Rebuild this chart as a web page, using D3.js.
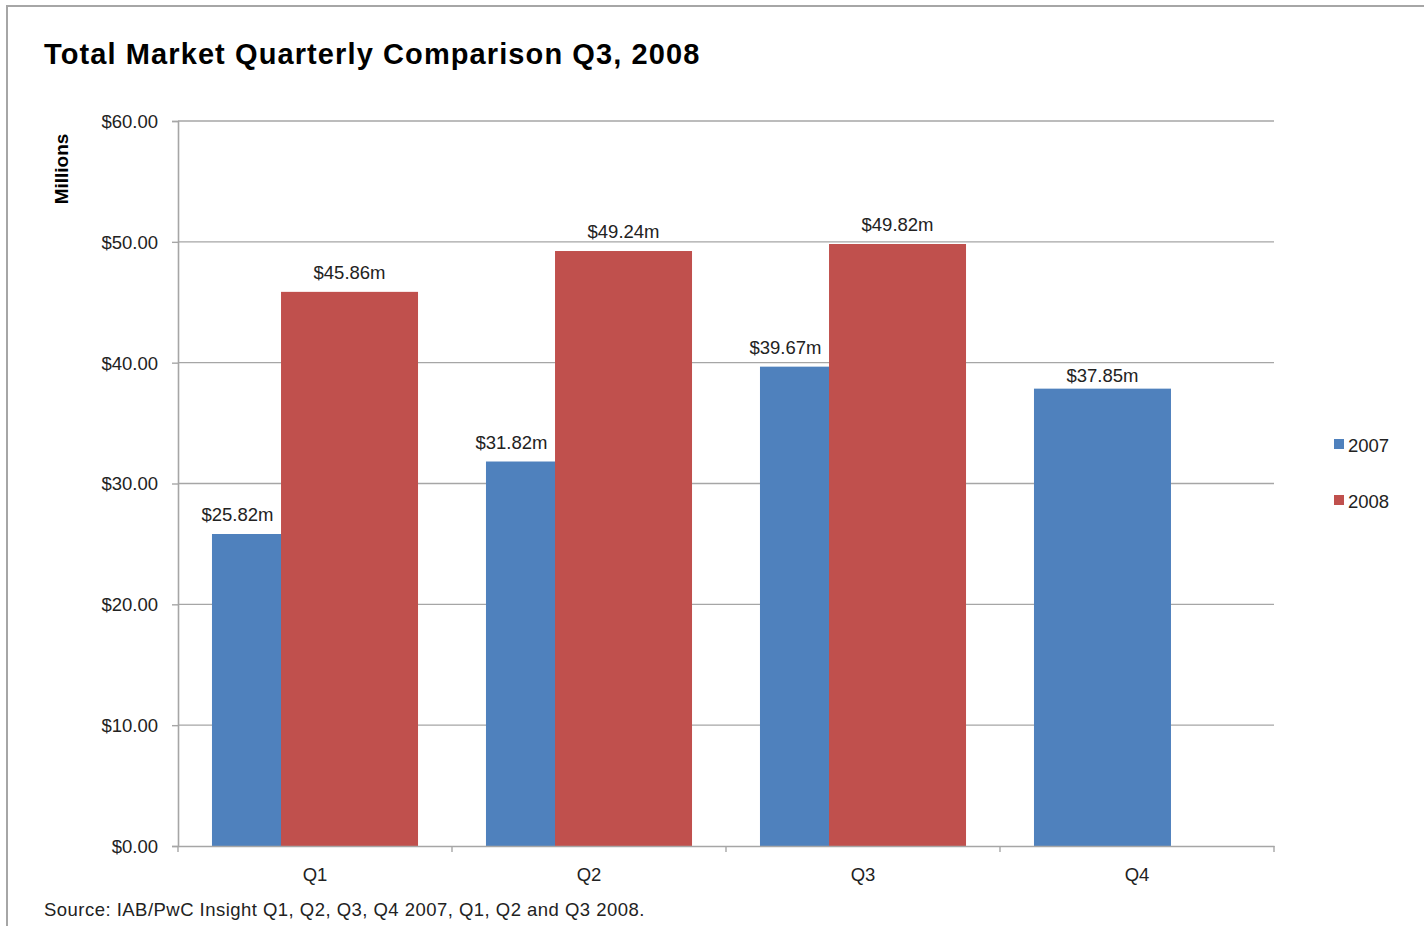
<!DOCTYPE html>
<html><head><meta charset="utf-8">
<script src="https://cdn.jsdelivr.net/npm/d3@7"></script>
<style>
html,body{margin:0;padding:0;background:#fff;}
svg{display:block;font-family:"Liberation Sans",Arial,sans-serif;}
</style></head>
<body><svg id="c" width="1424" height="926"></svg>
<script>
const categories = ["Q1","Q2","Q3","Q4"];
const series = ["2007","2008"];
const values2007 = [25.82, 31.82, 39.67, 37.85];
const values2008 = [45.86, 49.24, 49.82, null];
const labels2007 = ["$25.82m","$31.82m","$39.67m","$37.85m"];
const labels2008 = ["$45.86m","$49.24m","$49.82m",null];
const yTicks = [0,10,20,30,40,50,60];
const colors = ["#4F81BD","#C0504D"];

const svg = d3.select("#c");
// frame
svg.append("rect").attr("x",7).attr("y",6).attr("width",1430).attr("height",940)
  .attr("fill","#fff").attr("stroke","#a6a6a6").attr("stroke-width",2);

const x = d3.scaleBand().domain(categories).range([178,1274]).padding(0);
const y = d3.scaleLinear().domain([0,60]).range([846,121]);
const bw = x.bandwidth();
const barW = bw*0.5;
const groupW = bw*0.752;
const off = groupW - barW;

// gridlines
svg.append("g").selectAll("line").data(yTicks.filter(d=>d>0)).join("line")
  .attr("x1",178).attr("x2",1274).attr("y1",d=>y(d)).attr("y2",d=>y(d))
  .attr("stroke","#a6a6a6").attr("stroke-width",1.4);

// bars
const bx = c => x(c) + (bw-groupW)/2;
svg.append("g").selectAll("rect").data(categories).join("rect")
  .attr("x",c=>bx(c)).attr("width",barW)
  .attr("y",(c,i)=>y(values2007[i])).attr("height",(c,i)=>y(0)-y(values2007[i]))
  .attr("fill",colors[0]);
svg.append("g").selectAll("rect").data(categories.filter((c,i)=>values2008[i]!=null)).join("rect")
  .attr("x",c=>bx(c)+off).attr("width",barW)
  .attr("y",(c,i)=>y(values2008[i])).attr("height",(c,i)=>y(0)-y(values2008[i]))
  .attr("fill",colors[1]);

// y axis
const yAxis = d3.axisLeft(y).tickValues(yTicks).tickSize(6).tickPadding(14)
  .tickFormat(d=>"$"+d3.format(".2f")(d));
const gy = svg.append("g").attr("transform","translate(178,0)").call(yAxis);
gy.select(".domain").attr("stroke","#a6a6a6").attr("stroke-width",1.6);
gy.selectAll(".tick line").attr("stroke","#a6a6a6").attr("stroke-width",1.4);
gy.selectAll(".tick text").attr("font-size","18.5px").attr("fill","#222")
  .attr("font-family","Liberation Sans, Arial, sans-serif").attr("dy","0.35em");

// x axis
const xAxis = d3.axisBottom(x).tickSize(0).tickPadding(22);
const gx = svg.append("g").attr("transform","translate(0,846)").call(xAxis);
gx.select(".domain").attr("stroke","#a6a6a6").attr("stroke-width",1.6);
gx.selectAll(".tick text").attr("font-size","18.5px").attr("fill","#222")
  .attr("font-family","Liberation Sans, Arial, sans-serif");
svg.append("g").selectAll("line").data(categories.concat(["end"])).join("line")
  .attr("x1",(c,i)=>178+i*bw).attr("x2",(c,i)=>178+i*bw)
  .attr("y1",846).attr("y2",852).attr("stroke","#a6a6a6").attr("stroke-width",1.4);

// data labels
const lab = svg.append("g").attr("font-size","18.5px").attr("fill","#222");
categories.forEach((c,i)=>{
  const hasRed = values2008[i]!=null;
  lab.append("text")
    .attr("x", hasRed ? bx(c)+off/2-9 : bx(c)+barW/2)
    .attr("text-anchor","middle")
    .attr("y", y(values2007[i]) - (hasRed?13:7)).text(labels2007[i]);
  if(hasRed){
    lab.append("text").attr("x",bx(c)+off+barW/2).attr("text-anchor","middle")
      .attr("y", y(values2008[i])-13).text(labels2008[i]);
  }
});

// title
svg.append("text").attr("x",44).attr("y",64).attr("font-size","29px").attr("font-weight","bold")
  .attr("letter-spacing","1.1px").attr("fill","#000").text("Total Market Quarterly Comparison Q3, 2008");
// y label
svg.append("text").attr("transform","translate(68,169) rotate(-90)").attr("text-anchor","middle")
  .attr("font-size","19px").attr("font-weight","bold").attr("fill","#000").text("Millions");
// source
svg.append("text").attr("x",44).attr("y",916).attr("font-size","18.5px").attr("fill","#222")
  .attr("letter-spacing","0.47px")
  .text("Source: IAB/PwC Insight Q1, Q2, Q3, Q4 2007, Q1, Q2 and Q3 2008.");

// legend
const lg = svg.append("g");
series.forEach((s,i)=>{
  const yy = 439 + i*56;
  lg.append("rect").attr("x",1334).attr("y",yy).attr("width",10).attr("height",10).attr("fill",colors[i]);
  lg.append("text").attr("x",1348).attr("y",yy+13).attr("font-size","18.5px").attr("fill","#222").text(s);
});
</script></body></html>
